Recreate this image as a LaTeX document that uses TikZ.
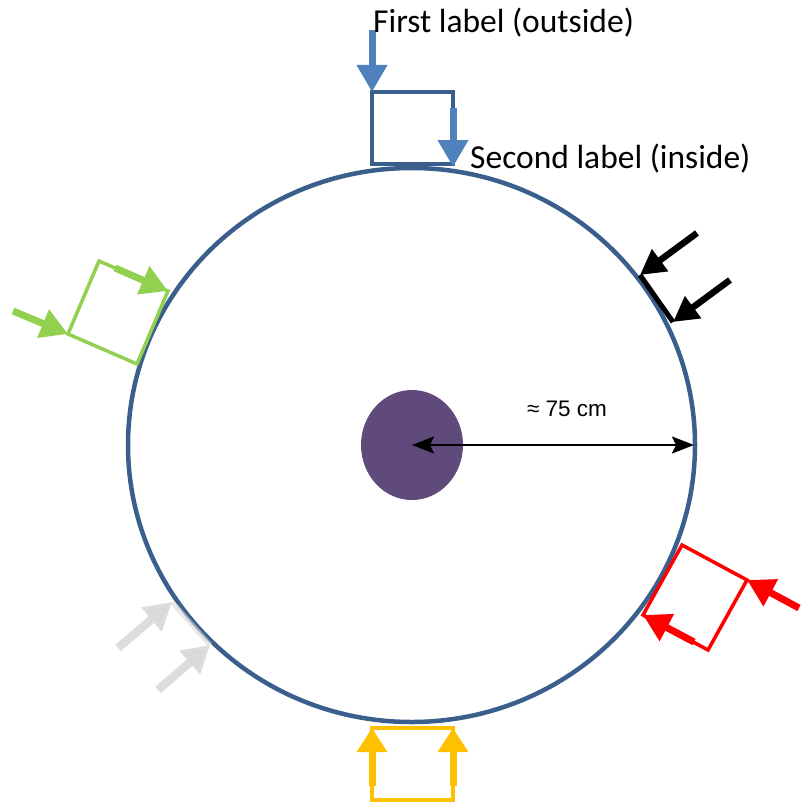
\documentclass[tikz,border=0pt]{standalone}
\usepackage{fontspec}
\setmainfont{Carlito}
\newfontfamily\arialfont{Liberation Sans}
\usetikzlibrary{arrows.meta}

\definecolor{rimblue}{HTML}{3A5F8C}
\definecolor{lightblue}{HTML}{4F81BD}
\definecolor{grassgreen}{HTML}{92D050}
\definecolor{signalred}{HTML}{FF0000}
\definecolor{ambergold}{HTML}{FFC000}
\definecolor{palegray}{HTML}{D9D9D9}
\definecolor{coreviolet}{HTML}{5F4A7B}

\tikzset{
  fatarrow/.style={line width=7pt, -{Triangle[length=27pt,width=29pt]}},
  frame/.style={line width=3.5pt, line join=miter},
  labeltext/.style={font=\fontsize{33.5}{36}\selectfont, inner sep=0pt, anchor=base west},
}

\begin{document}
\begin{tikzpicture}[x=1pt, y=-1pt]
\useasboundingbox (0,0) rectangle (800,808);

% drum outline and core
\coordinate (c) at (411.5,445);
\draw[rimblue, line width=4.5pt] (c) ellipse [x radius=283.5, y radius=277];
\fill[coreviolet] (412,445) ellipse [x radius=51, y radius=55];
\coordinate (core) at (412,445);
\coordinate (rim) at (694,445);
\draw[line width=2.2pt, {Stealth[length=22pt,width=17pt,inset=4pt]}-{Stealth[length=22pt,width=17pt,inset=4pt]}] (core) -- (rim);
\node[font=\arialfont\fontsize{22.5}{24}\selectfont] (radius) at (567,409) {≈ 75 cm};

% top: blue box
\coordinate (t1) at (372,92);
\coordinate (t2) at (453,92);
\coordinate (t3) at (453,164);
\coordinate (t4) at (372,164);
\draw[rimblue, line width=4pt] (t4) -- (t1) -- (t2) -- (t3) -- cycle;
\coordinate (ta) at (372,30);
\coordinate (tb) at (453,108);
\coordinate (tbend) at (453,167);
\draw[lightblue, fatarrow] (ta) -- (t1);
\draw[lightblue, fatarrow] (tb) -- (tbend);
\node[labeltext] (first) at (373,33) {First label (outside)};
\node[labeltext] (second) at (470,168) {Second label (inside)};

% left: green box
\coordinate (g1) at (99,261);
\coordinate (g2) at (168,291);
\coordinate (g3) at (137,364);
\coordinate (g4) at (68,334);
\draw[grassgreen, frame] (g1) -- (g2) -- (g3) -- (g4) -- cycle;
\coordinate (ga) at (13,311);
\coordinate (gb) at (115,268);
\draw[grassgreen, fatarrow] (ga) -- (g4);
\draw[grassgreen, fatarrow] (gb) -- (g2);

% upper right: black pair
\coordinate (k1) at (640,275);
\coordinate (k2) at (673,322);
\draw[black, line width=5pt] (k1) -- (k2);
\coordinate (ka) at (697,233);
\coordinate (kb) at (730,280);
\draw[black, line width=6.5pt, -{Triangle[length=25pt,width=26pt]}] (ka) -- (k1);
\draw[black, line width=6.5pt, -{Triangle[length=25pt,width=26pt]}] (kb) -- (k2);

% lower right: red box
\coordinate (r1) at (682,545);
\coordinate (r2) at (747,580);
\coordinate (r3) at (708,650);
\coordinate (r4) at (643,615);
\draw[signalred, frame] (r1) -- (r2) -- (r3) -- (r4) -- cycle;
\coordinate (ra) at (799,608);
\coordinate (rb) at (694,642);
\draw[signalred, fatarrow] (ra) -- (r2);
\draw[signalred, fatarrow] (rb) -- (r4);

% lower left: grey pair
\coordinate (p1) at (172,602);
\coordinate (p2) at (210,645);
\draw[palegray, line width=5pt, opacity=0.6] (p1) -- (p2);
\coordinate (pa) at (118,648);
\coordinate (pb) at (158,690);
\draw[palegray, opacity=0.9, line width=8.5pt, -{Triangle[length=27pt,width=30pt]}] (pa) -- (p1);
\draw[palegray, opacity=0.9, line width=8.5pt, -{Triangle[length=27pt,width=30pt]}] (pb) -- (p2);

% bottom: yellow box
\coordinate (y1) at (372,728);
\coordinate (y2) at (453,728);
\coordinate (y3) at (453,800);
\coordinate (y4) at (372,800);
\draw[ambergold, line width=4pt] (y1) -- (y2) -- (y3) -- (y4) -- cycle;
\coordinate (ya) at (372,786);
\coordinate (yb) at (453,786);
\draw[ambergold, line width=7pt, -{Triangle[length=24pt,width=29pt]}] (ya) -- (y1);
\draw[ambergold, line width=7pt, -{Triangle[length=24pt,width=29pt]}] (yb) -- (y2);
\end{tikzpicture}
\end{document}
